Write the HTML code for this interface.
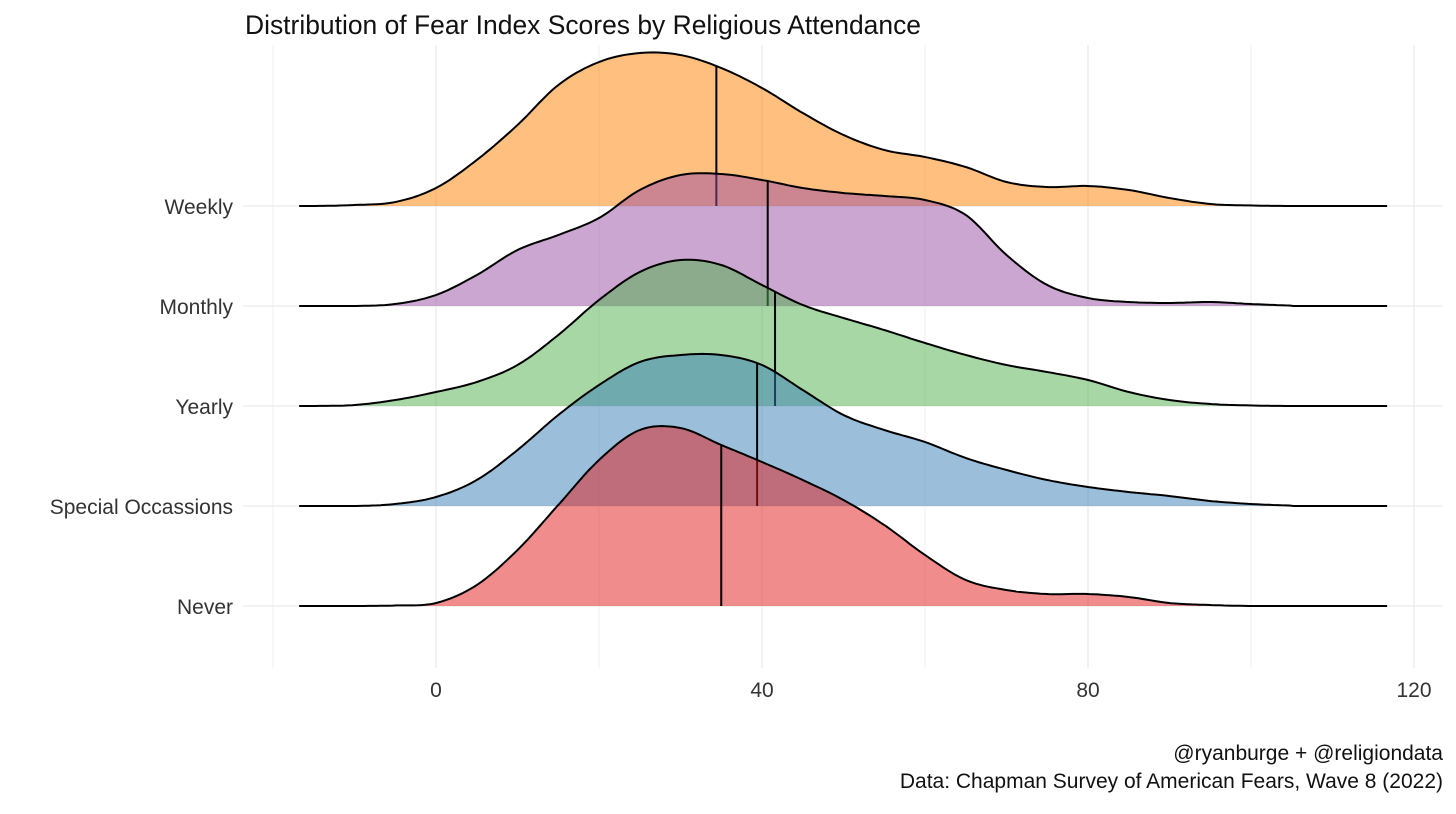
<!DOCTYPE html>
<html><head><meta charset="utf-8">
<style>
body{margin:0;background:#fff;}
svg text{font-family:"Liberation Sans Narrow","Liberation Sans",sans-serif;}
</style></head>
<body>
<svg id="chart" width="1456" height="809" viewBox="0 0 1456 809" xmlns="http://www.w3.org/2000/svg">
<rect width="1456" height="809" fill="#fff"/>
<g id="grid"></g>
<g id="ridges"></g>
<g id="labels"></g>
<text x="245" y="34" font-size="27" fill="#111" textLength="676" lengthAdjust="spacingAndGlyphs">Distribution of Fear Index Scores by Religious Attendance</text>
<text x="1443" y="760" font-size="21" fill="#111" text-anchor="end">@ryanburge + @religiondata</text>
<text x="1443" y="788" font-size="21" fill="#111" text-anchor="end">Data: Chapman Survey of American Fears, Wave 8 (2022)</text>
</svg>
<script>
const categories = ["Weekly","Monthly","Yearly","Special Occassions","Never"];
const xGrid = [-15,-10,-5,0,5,10,15,20,25,30,35,40,45,50,55,60,65,70,75,80,85,90,95,100,105];
const weekly  = [0,0.01,0.04,0.18,0.46,0.81,1.21,1.44,1.53,1.51,1.38,1.18,0.93,0.71,0.56,0.49,0.39,0.24,0.19,0.20,0.16,0.08,0.02,0.005,0];
const monthly = [0,0,0.02,0.11,0.31,0.56,0.71,0.88,1.16,1.31,1.32,1.26,1.18,1.13,1.10,1.06,0.91,0.51,0.21,0.08,0.04,0.03,0.04,0.02,0.005];
const yearly  = [0,0.01,0.06,0.14,0.24,0.41,0.71,1.06,1.34,1.46,1.41,1.21,1.01,0.88,0.76,0.63,0.51,0.41,0.34,0.26,0.14,0.06,0.02,0.005,0];
const special = [0,0,0.02,0.09,0.26,0.56,0.91,1.21,1.44,1.51,1.51,1.41,1.16,0.91,0.76,0.64,0.48,0.36,0.26,0.19,0.14,0.10,0.05,0.02,0.005];
const never   = [0,0,0.005,0.03,0.21,0.56,1.01,1.46,1.76,1.78,1.61,1.44,1.26,1.06,0.81,0.51,0.26,0.16,0.12,0.12,0.09,0.03,0.01,0,0];
const medians = [34.4,40.7,41.6,39.4,35.0];
const xTicks = [0,40,80,120];
const xMinor = [-20,20,60,100];

const series=[weekly,monthly,yearly,special,never];
const colors=["#ff7f00","#984ea3","#4daf4a","#377eb8","#e41a1c"];
const NS="http://www.w3.org/2000/svg";
const X=v=>436+v*8.15;
const baseY=i=>206+i*100;
const H=v=>v*100;
const xLo=-16.8,xHi=117;
function mk(tag,attrs,parent){const e=document.createElementNS(NS,tag);for(const k in attrs)e.setAttribute(k,attrs[k]);parent.appendChild(e);return e;}
function dens(vals,x){
  if(x<=xGrid[0]||x>=xGrid[xGrid.length-1])return 0;
  const step=xGrid[1]-xGrid[0];const t=(x-xGrid[0])/step;const i=Math.floor(t),f=t-i;
  const g=k=>vals[Math.max(0,Math.min(vals.length-1,k))];
  const p0=g(i-1),p1=g(i),p2=g(i+1),p3=g(i+2);
  const r=0.5*((2*p1)+(-p0+p2)*f+(2*p0-5*p1+4*p2-p3)*f*f+(-p0+3*p1-3*p2+p3)*f*f*f);
  return Math.max(0,r);
}
const grid=document.getElementById('grid');
xTicks.concat(xMinor).forEach(v=>{
  const l=mk('line',{x1:X(v),x2:X(v),y1:45,y2:668,stroke:"#ebebeb","stroke-width":xTicks.includes(v)?1.3:0.8},grid);
  
  
});
categories.forEach((c,i)=>{
  const l=mk('line',{x1:243,x2:1443,y1:baseY(i),y2:baseY(i),stroke:"#ebebeb","stroke-width":1.3},grid);
  
  
});
const ridges=document.getElementById('ridges');
series.forEach((vals,i)=>{
  const b=baseY(i);let pts=[];
  for(let x=xLo;x<=xHi;x+=0.5){pts.push([X(x),b-H(dens(vals,x))]);}
  const line="M"+pts.map(p=>p[0].toFixed(1)+","+p[1].toFixed(1)).join("L");
  const g=mk('g',{},ridges);
  
  
  const a=mk('path',{d:line+"L"+X(xHi)+","+b+"L"+X(xLo)+","+b+"Z",fill:colors[i],"fill-opacity":0.5,stroke:"none"},g);
  
  
  const m=medians[i];
  const ml=mk('line',{x1:X(m),x2:X(m),y1:b,y2:b-H(dens(vals,m)),stroke:"#000","stroke-width":2},g);
  
  
  const o=mk('path',{d:line,fill:"none",stroke:"#000","stroke-width":2},g);
  
  
});
const labels=document.getElementById('labels');
categories.forEach((c,i)=>{
  const t=mk('text',{x:233,y:baseY(i)+8,"font-size":21,fill:"#333","text-anchor":"end"},labels);
  t.textContent=c;
  
  
});
xTicks.forEach(v=>{
  const t=mk('text',{x:X(v),y:697,"font-size":21,fill:"#333","text-anchor":"middle"},labels);
  t.textContent=v;
  
  
});
</script>
</body></html>
